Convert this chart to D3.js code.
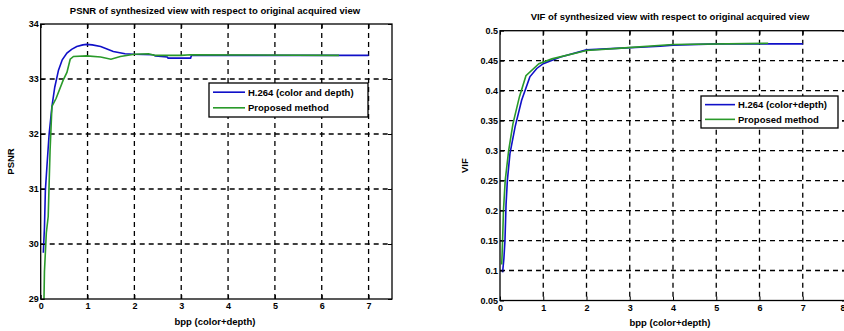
<!DOCTYPE html>
<html><head><meta charset="utf-8">
<script src="https://cdn.jsdelivr.net/npm/d3@7"></script>
<style>body{margin:0;background:#fff}svg{display:block}text{font-family:"Liberation Sans",Arial,sans-serif;fill:#000}</style>
</head><body><svg id="c" width="844" height="331"></svg>
<script>
// ---- data ----
const psnrXTicks = [0,1,2,3,4,5,6,7];
const psnrYTicks = [29,30,31,32,33,34];
const psnrH264 = [[0.056,29.84],[0.08,30.3],[0.1,30.98],[0.14,31.5],[0.18,32.0],[0.24,32.5],[0.3,32.85],[0.38,33.16],[0.46,33.35],[0.56,33.47],[0.66,33.54],[0.77,33.59],[0.9,33.62],[0.98,33.63],[1.1,33.62],[1.28,33.59],[1.55,33.5],[1.8,33.46],[1.98,33.45],[2.4,33.44],[2.45,33.42],[2.7,33.4],[2.72,33.38],[3.2,33.38],[3.22,33.43],[5,33.43],[7,33.43]];
const psnrProposed = [[0.07,29.0],[0.08,29.5],[0.12,30.2],[0.16,30.5],[0.2,31.7],[0.24,32.5],[0.33,32.65],[0.48,32.98],[0.56,33.12],[0.63,33.36],[0.7,33.41],[0.98,33.42],[1.28,33.4],[1.5,33.36],[1.7,33.41],[2.0,33.45],[2.3,33.46],[2.43,33.43],[3.0,33.43],[3.2,33.44],[6.37,33.43]];
const vifXTicks = [0,1,2,3,4,5,6,7,8];
const vifYTicks = [0.05,0.1,0.15,0.2,0.25,0.3,0.35,0.4,0.45,0.5];
const vifH264 = [[0.06,0.097],[0.09,0.12],[0.115,0.15],[0.14,0.21],[0.17,0.25],[0.23,0.295],[0.35,0.34],[0.5,0.384],[0.69,0.423],[0.85,0.437],[1.0,0.445],[1.4,0.456],[2.0,0.468],[2.8,0.471],[3.7,0.474],[4.0,0.476],[5,0.478],[7,0.478]];
const vifProposed = [[0.04,0.11],[0.06,0.15],[0.08,0.2],[0.12,0.25],[0.2,0.3],[0.3,0.345],[0.45,0.39],[0.6,0.425],[0.9,0.445],[1.2,0.453],[2.0,0.467],[2.8,0.471],[4.0,0.477],[6.2,0.479]];
const legendLabels1 = ["H.264 (color and depth)","Proposed method"];
const legendLabels2 = ["H.264 (color+depth)","Proposed method"];
const colors = ["#1010c8","#2a9a2a"];

const svg = d3.select("#c");

function chart(o){
  const g = svg.append("g");
  const x = d3.scaleLinear().domain(o.xd).range([o.l,o.r]);
  const y = d3.scaleLinear().domain(o.yd).range([o.b,o.t]);
  // grid
  g.selectAll(".gx").data(o.xt.filter(v=>v>o.xd[0]&&v<o.xd[1])).enter().append("line")
    .attr("x1",d=>x(d)).attr("x2",d=>x(d)).attr("y1",o.t).attr("y2",o.b)
    .attr("stroke","#000").attr("stroke-dasharray","5,4").attr("stroke-width",1.3);
  g.selectAll(".gy").data(o.yt.filter(v=>v>o.yd[0]&&v<o.yd[1])).enter().append("line")
    .attr("y1",d=>y(d)).attr("y2",d=>y(d)).attr("x1",o.l).attr("x2",o.r)
    .attr("stroke","#000").attr("stroke-dasharray","5,4").attr("stroke-width",1.3);
  // lines
  const line = d3.line().x(d=>x(d[0])).y(d=>y(d[1]));
  o.series.forEach((s,i)=>{
    g.append("path").attr("d",line(s)).attr("fill","none").attr("stroke",colors[i]).attr("stroke-width",1.6);
  });
  // axes
  const ax = g.append("g").attr("transform",`translate(0,${o.b})`).call(d3.axisBottom(x).tickValues(o.xt).tickSize(-4).tickPadding(4).tickFormat(d3.format("d")));
  const ay = g.append("g").attr("transform",`translate(${o.l},0)`).call(d3.axisLeft(y).tickValues(o.yt).tickSize(-4).tickPadding(2).tickFormat(o.yf));
  const at = g.append("g").attr("transform",`translate(0,${o.t})`).call(d3.axisTop(x).tickValues(o.xt).tickSize(-4).tickFormat(""));
  const ar = g.append("g").attr("transform",`translate(${o.r},0)`).call(d3.axisRight(y).tickValues(o.yt).tickSize(-4).tickFormat(""));
  [ax,ay,at,ar].forEach(a=>{a.selectAll("path").remove();a.selectAll("line").attr("stroke","#000");a.selectAll("text").style("font-size","9px").style("font-weight","bold").attr("fill","#000");});
  // keep a label at the page edge inside the page
  ax.selectAll(".tick text").filter(d=>x(d)>838).attr("text-anchor","end").attr("dx","-1");
  g.append("rect").attr("x",o.l).attr("y",o.t).attr("width",o.r-o.l).attr("height",o.b-o.t).attr("fill","none").attr("stroke","#000").attr("stroke-width",1.3);
  // labels
  g.append("text").attr("x",o.tx).attr("y",o.ty).attr("text-anchor","middle").style("font-size","9.5px").style("font-weight","bold").text(o.title);
  g.append("text").attr("x",o.tx).attr("y",o.xly).attr("text-anchor","middle").style("font-size","9.5px").style("font-weight","bold").text("bpp (color+depth)");
  g.append("text").attr("transform",`translate(${o.ylx},${(o.t+o.b)/2}) rotate(-90)`).attr("text-anchor","middle").style("font-size","9.5px").style("font-weight","bold").text(o.ylab);
  // legend
  const L = o.leg;
  g.append("rect").attr("x",L.x).attr("y",L.y).attr("width",L.w).attr("height",L.h).attr("fill","#fff").attr("stroke","#000").attr("stroke-width",1.3);
  o.legLabels.forEach((t,i)=>{
    const yy = L.y + L.h*(i===0?0.27:0.73);
    g.append("line").attr("x1",L.x+4).attr("x2",L.x+L.lw).attr("y1",yy).attr("y2",yy).attr("stroke",colors[i]).attr("stroke-width",1.6);
    g.append("text").attr("x",L.x+L.lw+3).attr("y",yy+3.5).style("font-size","9.5px").style("font-weight","bold").text(t);
  });
}

chart({xd:[0,7.5],yd:[29,34],l:40.7,r:392,t:24,b:299,xt:psnrXTicks,yt:psnrYTicks,yf:d3.format("d"),
  series:[psnrH264,psnrProposed],title:"PSNR of synthesized view with respect to original acquired view",
  tx:215,ty:14,xly:325,ylx:14,ylab:"PSNR",
  leg:{x:209,y:83,w:159,h:34,lw:36},legLabels:legendLabels1});

chart({xd:[0,8],yd:[0.05,0.5],l:500,r:846,t:30.7,b:300.5,xt:vifXTicks,yt:vifYTicks,yf:d=>String(+d.toFixed(2)),
  series:[vifH264,vifProposed],title:"VIF of synthesized view with respect to original acquired view",
  tx:670,ty:20,xly:326,ylx:468,ylab:"VIF",
  leg:{x:701,y:96,w:137,h:32,lw:34},legLabels:legendLabels2});
</script></body></html>
